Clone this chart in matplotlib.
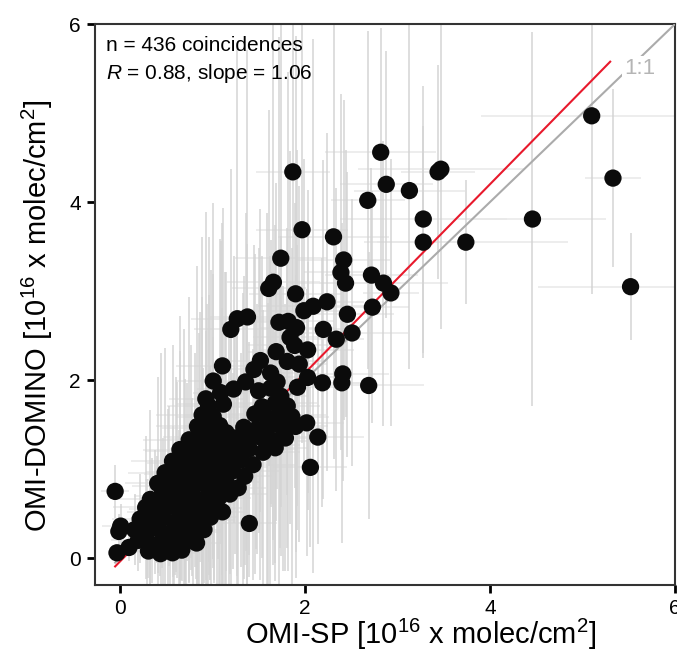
import numpy as np
import matplotlib
matplotlib.use("Agg")
import matplotlib.pyplot as plt

plt.rcParams['font.family'] = ['Liberation Sans', 'DejaVu Sans']
plt.rcParams['mathtext.fontset'] = 'custom'
plt.rcParams['mathtext.rm'] = 'Liberation Sans'
plt.rcParams['mathtext.it'] = 'Liberation Sans:italic'
plt.rcParams['mathtext.default'] = 'regular'

# isolated / upper points (OMI-SP, OMI-DOMINO) with their 1-sigma bars
x_outer = [5.10, 5.33, 5.52, 4.46, 3.74, 3.47, 3.44, 3.13, 3.28, 3.28,
           2.88, 2.82, 2.68, 1.87, 1.97, 2.31, 1.74, 2.42, 2.39, 2.44,
           2.72, 2.85, 2.93, 1.66, 1.61, 1.90, 1.38, 1.27, 1.20, 1.99,
           2.09, 2.24, 1.72, 1.82, 1.91, 2.46, 2.73, 2.20, 2.51, 2.34,
           1.84, 1.89, 1.69, 2.03, 1.81, 1.94, 1.52, 1.45, 1.11, 1.01,
           2.03, 2.41, 2.40, 2.19, 2.69, 1.36, 1.23, 1.09, 0.93, 1.50,
           1.63, 1.74, 1.63, 1.70, 1.92, 2.02, 2.14, 2.06, 1.40, -0.05,
           0.01, -0.01, -0.03, 0.10]
y_outer = [4.97, 4.27, 3.05, 3.81, 3.55, 4.37, 4.34, 4.13, 3.81, 3.55,
           4.20, 4.56, 4.02, 4.34, 3.69, 3.61, 3.37, 3.35, 3.21, 3.09,
           3.18, 3.09, 2.98, 3.10, 3.03, 2.97, 2.71, 2.69, 2.57, 2.78,
           2.83, 2.88, 2.65, 2.66, 2.59, 2.74, 2.82, 2.57, 2.53, 2.46,
           2.48, 2.39, 2.32, 2.34, 2.21, 2.18, 2.22, 2.12, 2.16, 1.99,
           2.03, 2.07, 1.97, 1.97, 1.94, 1.98, 1.90, 1.86, 1.79, 1.88,
           1.91, 1.82, 2.08, 1.98, 1.92, 1.52, 1.36, 1.02, 0.39, 0.75,
           0.36, 0.30, 0.06, 0.12]
xerr_outer = [1.2, 0.3, 1.0, 0.8, 1.1, 0.9, 0.4, 0.6, 0.9, 0.5,
              0.5, 0.6, 0.4, 0.4, 0.5, 0.6, 0.5, 0.5, 0.4, 0.6,
              0.5, 0.7, 0.3, 0.5, 0.4, 0.5, 0.4, 0.5, 0.4, 0.5,
              0.6, 0.4, 0.3, 0.5, 0.4, 0.5, 0.4, 0.4, 0.6, 0.3,
              0.4, 0.5, 0.3, 0.5, 0.4, 0.3, 0.4, 0.3, 0.5, 0.4,
              0.4, 0.5, 0.3, 0.4, 0.6, 0.3, 0.4, 0.3, 0.4, 0.3,
              0.4, 0.3, 0.3, 0.4, 0.5, 0.4, 0.5, 0.4, 0.3, 0.15,
              0.2, 0.1, 0.1, 0.2]
yerr_outer = [2.0, 1.0, 0.6, 2.1, 0.7, 1.8, 1.2, 2.0, 1.5, 1.3,
              1.5, 1.4, 1.9, 1.7, 2.4, 2.5, 2.8, 1.8, 2.0, 1.5,
              1.2, 1.6, 1.5, 2.9, 2.0, 2.9, 3.0, 3.1, 1.8, 1.7,
              3.0, 1.9, 3.2, 2.8, 2.0, 1.6, 1.3, 1.9, 1.5, 1.7,
              2.1, 1.6, 1.9, 1.8, 1.5, 2.0, 1.7, 1.4, 1.6, 2.0,
              1.3, 1.2, 1.8, 1.4, 1.5, 1.9, 1.5, 1.7, 2.1, 1.6,
              1.3, 1.8, 1.5, 1.2, 1.6, 1.5, 1.2, 0.9, 0.6, 0.3,
              0.25, 0.2, 0.1, 0.15]

# dense core near the origin
x_core = [0.31, 0.44, 0.57, 0.67,
          0.20, 0.33, 0.46, 0.59, 0.71, 0.83,
          0.16, 0.29, 0.41, 0.54, 0.66, 0.79, 0.91,
          0.22, 0.35, 0.47, 0.60, 0.72, 0.85, 0.98,
          0.28, 0.40, 0.52, 0.64, 0.77, 0.89, 1.02, 1.11,
          0.33, 0.45, 0.57, 0.70, 0.82, 0.95, 1.07, 1.19,
          0.41, 0.53, 0.65, 0.78, 0.90, 1.02, 1.15, 1.28,
          0.49, 0.61, 0.73, 0.86, 0.98, 1.10, 1.22, 1.35,
          0.57, 0.69, 0.81, 0.94, 1.06, 1.18, 1.31, 1.44,
          0.65, 0.77, 0.89, 1.01, 1.14, 1.27, 1.40, 1.55, 1.68,
          0.75, 0.87, 0.99, 1.11, 1.24, 1.38, 1.52, 1.66, 1.79,
          0.84, 0.96, 1.08, 1.34, 1.48, 1.62, 1.76, 1.90,
          0.89, 1.01, 1.46, 1.59, 1.73, 1.86,
          0.96, 1.12, 1.54, 1.68, 1.81,
          0.38, 0.62, 0.75, 0.93, 1.05, 1.20, 1.33, 1.47, 1.60, 1.15]
y_core = [0.08, 0.05, 0.06, 0.09,
          0.20, 0.16, 0.19, 0.15, 0.18, 0.17,
          0.32, 0.29, 0.33, 0.28, 0.31, 0.29, 0.32,
          0.44, 0.42, 0.45, 0.41, 0.44, 0.43, 0.46,
          0.57, 0.55, 0.58, 0.54, 0.57, 0.55, 0.56, 0.52,
          0.66, 0.70, 0.68, 0.71, 0.67, 0.70, 0.68, 0.72,
          0.84, 0.81, 0.83, 0.80, 0.84, 0.82, 0.85, 0.79,
          0.96, 0.94, 0.97, 0.93, 0.96, 0.95, 0.98, 0.92,
          1.09, 1.07, 1.10, 1.06, 1.09, 1.07, 1.10, 1.05,
          1.22, 1.20, 1.23, 1.19, 1.22, 1.20, 1.23, 1.19, 1.24,
          1.33, 1.36, 1.34, 1.31, 1.35, 1.33, 1.36, 1.32, 1.35,
          1.48, 1.46, 1.49, 1.47, 1.45, 1.49, 1.46, 1.48,
          1.61, 1.59, 1.62, 1.58, 1.61, 1.59,
          1.71, 1.73, 1.70, 1.74, 1.71,
          0.52, 0.88, 0.62, 1.15, 0.76, 1.02, 1.28, 1.40, 1.27, 1.41]
xerr_core = [0.2, 0.15, 0.25, 0.2,
             0.3, 0.2, 0.25, 0.3, 0.2, 0.25,
             0.25, 0.3, 0.2, 0.35, 0.25, 0.3, 0.2,
             0.3, 0.25, 0.35, 0.3, 0.2, 0.4, 0.3,
             0.35, 0.3, 0.25, 0.4, 0.3, 0.35, 0.3, 0.25,
             0.4, 0.3, 0.35, 0.3, 0.45, 0.3, 0.35, 0.4,
             0.35, 0.4, 0.3, 0.45, 0.3, 0.4, 0.35, 0.3,
             0.4, 0.35, 0.45, 0.3, 0.4, 0.35, 0.5, 0.3,
             0.45, 0.4, 0.3, 0.5, 0.35, 0.4, 0.3, 0.45,
             0.4, 0.5, 0.35, 0.45, 0.4, 0.3, 0.5, 0.4, 0.35,
             0.5, 0.4, 0.45, 0.35, 0.5, 0.4, 0.3, 0.45, 0.4,
             0.45, 0.5, 0.4, 0.35, 0.5, 0.4, 0.45, 0.35,
             0.5, 0.4, 0.45, 0.35, 0.5, 0.4,
             0.45, 0.5, 0.4, 0.45, 0.35,
             0.3, 0.35, 0.4, 0.3, 0.35, 0.4, 0.3, 0.45, 0.35, 0.4]
yerr_core = [0.3, 0.25, 0.4, 0.35,
             0.35, 0.5, 0.3, 0.6, 0.45, 0.5,
             0.4, 0.6, 0.5, 0.7, 0.55, 0.8, 0.6,
             0.5, 0.7, 0.9, 0.6, 0.8, 1.0, 0.7,
             0.8, 0.6, 1.1, 0.9, 0.7, 1.2, 0.8, 1.0,
             1.0, 1.6, 0.8, 1.3, 0.9, 1.1, 1.4, 0.9,
             1.2, 0.9, 1.5, 1.0, 1.3, 1.1, 1.0, 1.2,
             1.4, 1.1, 1.0, 1.6, 1.2, 1.3, 1.1, 1.0,
             1.3, 1.5, 1.2, 1.8, 1.1, 1.4, 1.2, 1.3,
             1.5, 1.2, 1.7, 1.3, 2.0, 1.4, 1.2, 1.6, 1.3,
             1.6, 1.4, 1.9, 1.5, 1.3, 2.2, 1.6, 1.4, 1.5,
             1.8, 1.5, 2.1, 1.7, 1.4, 1.9, 1.6, 1.7,
             2.0, 1.6, 1.8, 2.3, 1.5, 1.9,
             1.9, 2.2, 1.7, 2.0, 1.6,
             0.7, 1.1, 0.9, 1.4, 1.2, 1.5, 1.7, 1.3, 1.6, 1.8]

n_coinc = 436
r_value = 0.88
fit_slope = 1.06
fit_icpt = -0.04

x = np.array(x_outer + x_core)
y = np.array(y_outer + y_core)
xerr = np.array(xerr_outer + xerr_core)
yerr = np.array(yerr_outer + yerr_core)

fig = plt.figure(figsize=(6.77, 6.52), dpi=100)
ax = fig.add_axes([0.140, 0.103, 0.857, 0.860])

# error bars first, light grey
ax.errorbar(x, y, xerr=xerr, fmt='none', ecolor='#e8e8e8', elinewidth=1.1,
            capsize=0, zorder=1)
ax.errorbar(x, y, yerr=yerr, fmt='none', ecolor='#d4d4d4', elinewidth=1.1,
            capsize=0, zorder=2)

# 1:1 line and fit
lim = np.array([-0.05, 6.0])
ax.plot(lim, lim, color='#ababab', lw=1.5, zorder=3)
ax.text(5.62, 5.50, '1:1', color='#b5b5b5', fontsize=16, ha='center',
        va='center', zorder=4,
        bbox=dict(facecolor='white', edgecolor='none', pad=1.5))
fx = np.array([-0.05, 5.30])
ax.plot(fx, fit_slope * fx + fit_icpt, color='#e8192c', lw=1.5, zorder=5)

ax.scatter(x, y, s=155, color='#0b0b0b', edgecolors='none', zorder=6)

ax.text(-0.15, 5.87, f'n = {n_coinc} coincidences', fontsize=15,
        va='top', ha='left')
ax.text(-0.15, 5.57, rf'$\mathit{{R}}$ = {r_value:.2f}, slope = {fit_slope:.2f}',
        fontsize=15, va='top', ha='left')

ax.set_xlim(-0.27, 6.0)
ax.set_ylim(-0.3, 6.0)
ax.set_xticks([0, 2, 4, 6])
ax.set_yticks([0, 2, 4, 6])
ax.tick_params(direction='out', length=6, width=2, labelsize=15, pad=4,
               color='black')
for s in ax.spines.values():
    s.set_color('#333333')
    s.set_linewidth(1.5)

ax.set_xlabel(r'OMI-SP [10$^{16}$ x molec/cm$^{2}$]', fontsize=21, labelpad=-1)
ax.set_ylabel(r'OMI-DOMINO [10$^{16}$ x molec/cm$^{2}$]', fontsize=21,
              labelpad=10)
ax.xaxis.label.set_x(0.562)
ax.yaxis.label.set_y(0.48)

fig.savefig('out.png', dpi=100)
